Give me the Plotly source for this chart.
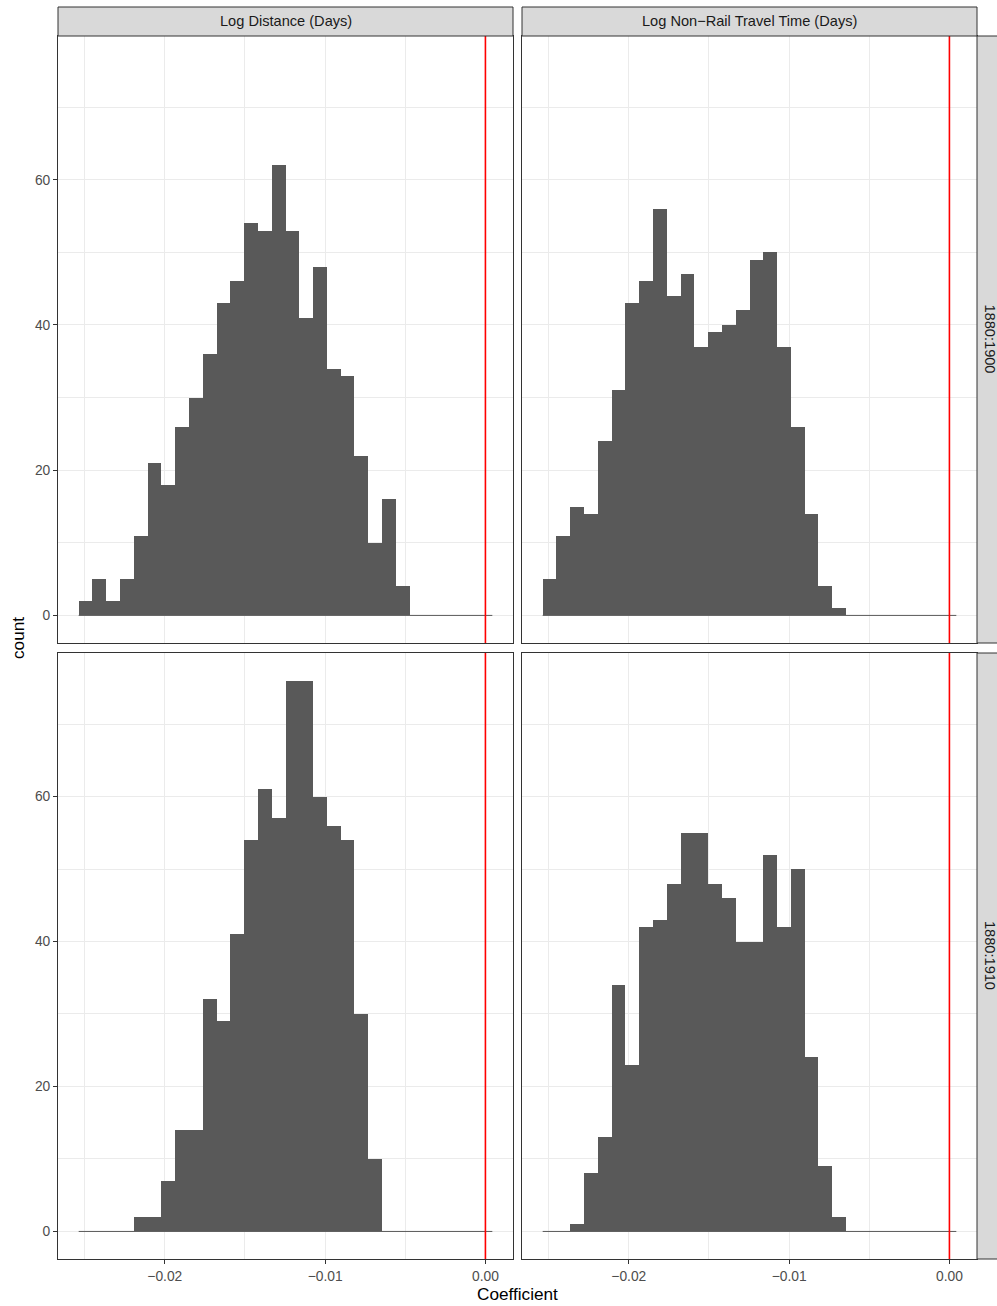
import plotly.graph_objects as go

# ---------------- data ----------------
facet_cols = ["Log Distance (Days)", "Log Non\u2212Rail Travel Time (Days)"]
facet_rows = ["1880:1900", "1880:1910"]

bin_start = -0.02537   # left edge of first bin
bin_width = 0.00086
n_bins = 30

counts_dist_1900 = [2, 5, 2, 5, 11, 21, 18, 26, 30, 36, 43, 46, 54, 53, 62,
                    53, 41, 48, 34, 33, 22, 10, 16, 4, 0, 0, 0, 0, 0, 0]
counts_time_1900 = [5, 11, 15, 14, 24, 31, 43, 46, 56, 44, 47, 37, 39, 40, 42,
                    49, 50, 37, 26, 14, 4, 1, 0, 0, 0, 0, 0, 0, 0, 0]
counts_dist_1910 = [0, 0, 0, 0, 2, 2, 7, 14, 14, 32, 29, 41, 54, 61, 57,
                    76, 76, 60, 56, 54, 30, 10, 0, 0, 0, 0, 0, 0, 0, 0]
counts_time_1910 = [0, 0, 1, 8, 13, 34, 23, 42, 43, 48, 55, 55, 48, 46, 40,
                    40, 52, 42, 50, 24, 9, 2, 0, 0, 0, 0, 0, 0, 0, 0]

x_ticks = [-0.02, -0.01, 0.0]
x_tick_labels = ["\u22120.02", "\u22120.01", "0.00"]
y_ticks = [0, 20, 40, 60]
y_tick_labels = ["0", "20", "40", "60"]
ref_line = 0.0

panels = [
    [counts_dist_1900, counts_time_1900],
    [counts_dist_1910, counts_time_1910],
]

# ---------------- layout geometry ----------------
W, H = 997, 1306
ML, MR, MT, MB = 58, 20, 36, 47
PW, PH = W - ML - MR, H - MT - MB
xdoms = [[0, 455 / PW], [464 / PW, 1]]
ydoms = [[(1259 - 643) / PH, 1], [0, (1259 - 653) / PH]]

FONT = "Liberation Sans, Arial, Helvetica, sans-serif"
BAR = "#595959"
GRID = "#EBEBEB"
BORDER = "#333333"
STRIP = "#D9D9D9"
TICK_SIZE = 13.8
STRIP_SIZE = 14.6
TITLE_SIZE = 17.2

centers = [bin_start + bin_width * (i + 0.5) for i in range(n_bins)]
x_lo = bin_start
x_hi = bin_start + bin_width * n_bins
x_pad = 0.05 * (x_hi - x_lo)
x_range = [x_lo - x_pad, x_hi + x_pad]
y_max = max(max(c) for row in panels for c in row)
y_range = [-0.05 * y_max, y_max * 1.05]

fig = go.Figure()
layout = {}
shapes = []
annotations = []

for r in range(2):
    for c in range(2):
        k = r * 2 + c + 1
        xa = "x" if k == 1 else f"x{k}"
        ya = "y" if k == 1 else f"y{k}"
        counts = panels[r][c]
        # baseline of zero-height bins
        fig.add_trace(go.Scatter(
            x=[x_lo, x_hi], y=[0, 0], mode="lines",
            line=dict(color=BAR, width=1), xaxis=xa, yaxis=ya,
            showlegend=False, hoverinfo="skip"))
        fig.add_trace(go.Bar(
            x=centers, y=counts, width=bin_width,
            marker=dict(color=BAR, line=dict(width=0)),
            xaxis=xa, yaxis=ya, showlegend=False))
        fig.add_trace(go.Scatter(
            x=[ref_line, ref_line], y=y_range, mode="lines",
            line=dict(color="#FF0000", width=1.6), xaxis=xa, yaxis=ya,
            showlegend=False, hoverinfo="skip"))

        xkey = "xaxis" if k == 1 else f"xaxis{k}"
        ykey = "yaxis" if k == 1 else f"yaxis{k}"
        layout[xkey] = dict(
            domain=xdoms[c], anchor=ya, range=x_range,
            tickmode="array", tickvals=x_ticks, ticktext=x_tick_labels,
            showticklabels=(r == 1), ticks="outside" if r == 1 else "",
            ticklen=4, tickwidth=1, tickcolor=BORDER,
            tickfont=dict(family=FONT, size=TICK_SIZE, color="#4D4D4D"),
            showgrid=True, gridcolor=GRID, gridwidth=1.1,
            minor=dict(tick0=0, dtick=0.005, showgrid=True, gridcolor=GRID,
                       gridwidth=0.55, ticks=""),
            showline=True, mirror=True, linecolor=BORDER, linewidth=1,
            zeroline=False, fixedrange=True)
        layout[ykey] = dict(
            domain=ydoms[r], anchor=xa, range=y_range,
            tickmode="array", tickvals=y_ticks, ticktext=y_tick_labels,
            showticklabels=(c == 0), ticks="outside" if c == 0 else "",
            ticklen=4, tickwidth=1, tickcolor=BORDER,
            tickfont=dict(family=FONT, size=TICK_SIZE, color="#4D4D4D"),
            showgrid=True, gridcolor=GRID, gridwidth=1.1,
            minor=dict(tick0=0, dtick=10, showgrid=True, gridcolor=GRID,
                       gridwidth=0.55, ticks=""),
            showline=True, mirror=True, linecolor=BORDER, linewidth=1,
            zeroline=False, fixedrange=True)

# top strips
strip_h = 29 / PH
for c, label in enumerate(facet_cols):
    shapes.append(dict(type="rect", xref="paper", yref="paper",
                       x0=xdoms[c][0], x1=xdoms[c][1], y0=1, y1=1 + strip_h,
                       fillcolor=STRIP, line=dict(color=BORDER, width=1),
                       layer="above"))
    annotations.append(dict(text=label, xref="paper", yref="paper",
                            x=(xdoms[c][0] + xdoms[c][1]) / 2, y=1 + strip_h / 2,
                            xanchor="center", yanchor="middle", showarrow=False,
                            font=dict(family=FONT, size=STRIP_SIZE, color="#1A1A1A")))
# right strips
strip_w = 29 / PW
for r, label in enumerate(facet_rows):
    shapes.append(dict(type="rect", xref="paper", yref="paper",
                       x0=1, x1=1 + strip_w, y0=ydoms[r][0], y1=ydoms[r][1],
                       fillcolor=STRIP, line=dict(color=BORDER, width=1),
                       layer="above"))
    annotations.append(dict(text=label, xref="paper", yref="paper",
                            x=1 + 13 / PW, y=(ydoms[r][0] + ydoms[r][1]) / 2,
                            xanchor="center", yanchor="middle", showarrow=False,
                            textangle=90,
                            font=dict(family=FONT, size=STRIP_SIZE, color="#1A1A1A")))

# axis titles
annotations.append(dict(text="Coefficient", xref="paper", yref="paper",
                        x=0.5, y=-35 / PH, xanchor="center", yanchor="middle",
                        showarrow=False,
                        font=dict(family=FONT, size=TITLE_SIZE, color="#000000")))
annotations.append(dict(text="count", xref="paper", yref="paper",
                        x=-40 / PW, y=(1259 - 638) / PH, xanchor="center",
                        yanchor="middle", showarrow=False, textangle=-90,
                        font=dict(family=FONT, size=TITLE_SIZE, color="#000000")))

fig.update_layout(
    width=W, height=H,
    margin=dict(l=ML, r=MR, t=MT, b=MB, pad=0),
    paper_bgcolor="white", plot_bgcolor="white",
    bargap=0, barmode="overlay",
    shapes=shapes, annotations=annotations,
    font=dict(family=FONT),
    **layout,
)

fig.write_html("out.html")
